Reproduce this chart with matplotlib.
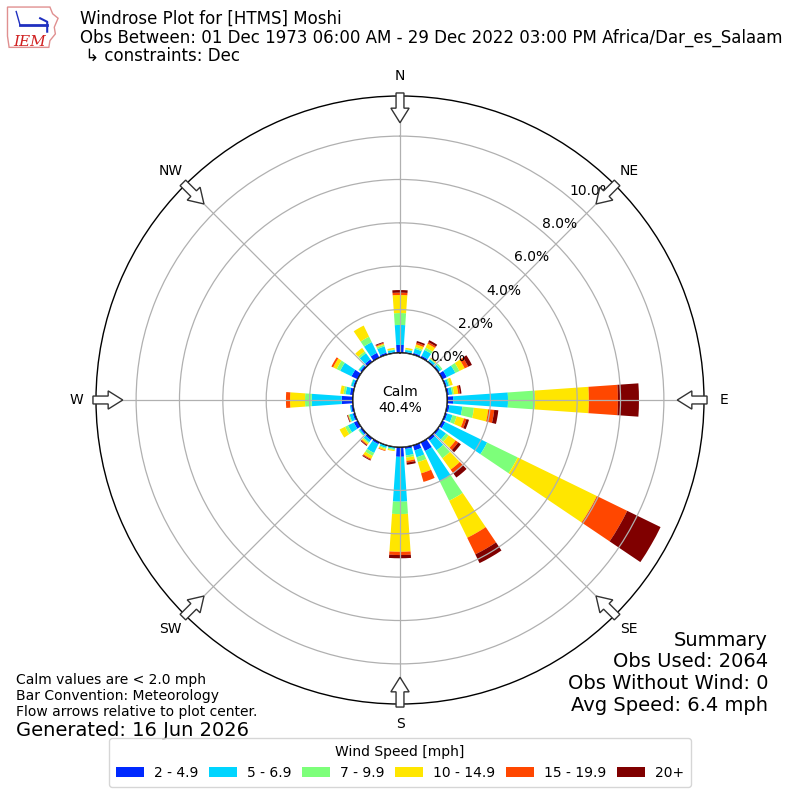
import numpy as np
import matplotlib
matplotlib.use("Agg")
import matplotlib.pyplot as plt
from matplotlib.patches import Patch, Circle, FancyArrow, Polygon

# ---------------- data ----------------
directions = list(range(0, 360, 10))
speed_labels = ['2 - 4.9', '5 - 6.9', '7 - 9.9', '10 - 14.9', '15 - 19.9', '20+']

s_2_5 = [0.37, 0.05, 0.09, 0.10, 0.06, 0.08, 0.23, 0.08, 0.10, 0.28, 0.12, 0.10,
         0.15, 0.10, 0.15, 0.45, 0.25, 0.10, 0.45, 0.03, 0.03, 0.10, 0.12, 0.10,
         0.20, 0.10, 0.10, 0.52, 0.15, 0.08, 0.32, 0.10, 0.15, 0.25, 0.10, 0.05]
s_5_7 = [0.92, 0.10, 0.20, 0.30, 0.10, 0.10, 0.44, 0.10, 0.15, 2.53, 0.60, 0.25,
         2.15, 0.35, 0.55, 1.55, 0.33, 0.30, 2.07, 0.07, 0.10, 0.45, 0.12, 0.07,
         0.30, 0.15, 0.05, 1.38, 0.20, 0.10, 0.58, 0.08, 0.35, 0.55, 0.30, 0.10]
s_7_10 = [0.55, 0.03, 0.08, 0.12, 0.04, 0.07, 0.21, 0.06, 0.08, 1.25, 0.54, 0.20,
          1.57, 0.15, 0.45, 1.00, 0.23, 0.10, 0.57, 0.05, 0.05, 0.15, 0.06, 0.03,
          0.15, 0.05, 0.00, 0.31, 0.10, 0.02, 0.18, 0.02, 0.10, 0.28, 0.08, 0.03]
s_10_15 = [0.83, 0.07, 0.13, 0.20, 0.03, 0.00, 0.27, 0.12, 0.20, 2.48, 0.66, 0.35,
           4.06, 0.40, 0.65, 1.90, 0.54, 0.15, 1.74, 0.05, 0.07, 0.15, 0.07, 0.00,
           0.28, 0.02, 0.00, 0.69, 0.15, 0.00, 0.18, 0.00, 0.20, 0.57, 0.05, 0.07]
s_15_20 = [0.11, 0.00, 0.08, 0.08, 0.01, 0.00, 0.18, 0.00, 0.08, 1.34, 0.28, 0.12,
           1.56, 0.15, 0.20, 0.85, 0.41, 0.08, 0.15, 0.00, 0.03, 0.05, 0.04, 0.00,
           0.00, 0.02, 0.00, 0.19, 0.00, 0.00, 0.09, 0.00, 0.00, 0.00, 0.04, 0.00]
s_20p = [0.12, 0.00, 0.08, 0.10, 0.01, 0.00, 0.19, 0.00, 0.07, 0.97, 0.19, 0.12,
         1.71, 0.15, 0.25, 0.45, 0.00, 0.10, 0.15, 0.00, 0.00, 0.04, 0.04, 0.00,
         0.00, 0.03, 0.00, 0.00, 0.00, 0.00, 0.00, 0.00, 0.00, 0.00, 0.04, 0.00]

calm_pct = 40.4
ring_values = [0, 2, 4, 6, 8, 10]
compass_labels = ['N', 'NE', 'E', 'SE', 'S', 'SW', 'W', 'NW']
compass_angles = [0, 45, 90, 135, 180, 225, 270, 315]

series = [s_2_5, s_5_7, s_7_10, s_10_15, s_15_20, s_20p]
colors = plt.cm.jet(np.linspace(0, 1, 7)[1:])

# ---------------- figure ----------------
fig = plt.figure(figsize=(8, 8), dpi=100)
ax = fig.add_axes([0.12, 0.12, 0.76, 0.76], projection='polar')
ax.set_theta_zero_location('N')
ax.set_theta_direction(-1)

theta = np.deg2rad(directions)
width = np.deg2rad(8)
bottom = np.zeros(len(directions))
handles = []
for vals, col, lab in zip(series, colors, speed_labels):
    v = np.array(vals)
    ax.bar(theta, v, width=width, bottom=bottom, color=col, linewidth=0,
           zorder=2)
    bottom = bottom + v
    handles.append(Patch(facecolor=col, label=lab))

ax.set_ylim(0, 11.85)
ax.set_rorigin(-2.17)
ax.set_thetagrids(compass_angles, labels=[''] * 8)
ax.set_rgrids(ring_values, labels=[''] * len(ring_values))
ax.grid(True, color='#b0b0b0', linewidth=0.9, zorder=3)
ax.set_axisbelow(False)
ax.spines['polar'].set_linewidth(1.0)
ax.tick_params(length=0)

# radial labels
for rv in ring_values:
    ax.text(np.deg2rad(40), rv, f"{rv:.1f}%", ha='left', va='bottom',
            fontsize=10, zorder=6)

# compass labels and flow arrows
for lab, ang in zip(compass_labels, compass_angles):
    a = np.deg2rad(ang)
    rl = 0.533
    ax.text(0.5 + rl * np.sin(a), 0.5 + rl * np.cos(a), lab,
            transform=ax.transAxes, ha='center', va='center', fontsize=10)
    r0, r1 = 0.505, 0.456
    x0, y0 = 0.5 + r0 * np.sin(a), 0.5 + r0 * np.cos(a)
    x1, y1 = 0.5 + r1 * np.sin(a), 0.5 + r1 * np.cos(a)
    arr = FancyArrow(x0, y0, x1 - x0, y1 - y0, width=0.013, head_width=0.03,
                     head_length=0.024, length_includes_head=True,
                     transform=ax.transAxes, facecolor='white',
                     edgecolor='#333333', linewidth=1.0, clip_on=False, zorder=7)
    ax.add_patch(arr)

# calm circle
calm = Circle((0.5, 0.5), 47 / 608, transform=ax.transAxes, facecolor='white',
              edgecolor='black', linewidth=1.2, zorder=8)
ax.add_patch(calm)
ax.text(0.5, 0.5, f"Calm\n{calm_pct:.1f}%", transform=ax.transAxes,
        ha='center', va='center', fontsize=10, zorder=9)

# titles
fig.text(0.1, 1 - 19 / 800, "Windrose Plot for [HTMS] Moshi", fontsize=12,
         va='center', ha='left')
fig.text(0.1, 1 - 38 / 800,
         "Obs Between: 01 Dec 1973 06:00 AM - 29 Dec 2022 03:00 PM Africa/Dar_es_Salaam",
         fontsize=12, va='center', ha='left')
fig.text(0.1, 1 - 56 / 800, " \u21b3 constraints: Dec", fontsize=12,
         va='center', ha='left')

# logo
lax = fig.add_axes([0.008, 0.938, 0.068, 0.056])
lax.set_xlim(0, 1)
lax.set_ylim(0, 1)
lax.axis('off')
iowa = Polygon([[0.02, 0.95], [0.80, 0.95], [0.85, 0.80], [0.95, 0.70],
                [0.88, 0.50], [0.90, 0.35], [0.80, 0.20], [0.78, 0.05],
                [0.05, 0.05], [0.02, 0.30]], closed=True, facecolor='white',
               edgecolor='#e09090', linewidth=1.0)
lax.add_patch(iowa)
lax.plot([0.25, 0.75], [0.55, 0.55], color='#2030c0', lw=2)
lax.plot([0.62, 0.75, 0.75], [0.70, 0.62, 0.40], color='#2030c0', lw=1.5)
lax.plot([0.25, 0.18], [0.55, 0.85], color='#2030c0', lw=1)
lax.text(0.42, 0.18, "IEM", color='#d02020', fontsize=11, ha='center',
         va='center', family='DejaVu Serif', style='italic')

# bottom-left notes
fig.text(0.02, 1 - 680 / 800, "Calm values are < 2.0 mph", fontsize=10, va='center')
fig.text(0.02, 1 - 696 / 800, "Bar Convention: Meteorology", fontsize=10, va='center')
fig.text(0.02, 1 - 712 / 800, "Flow arrows relative to plot center.", fontsize=10, va='center')
fig.text(0.02, 1 - 730 / 800, "Generated: 16 Jun 2026", fontsize=14, va='center')

# summary
summary_lines = ["Summary", "Obs Used: 2064", "Obs Without Wind: 0", "Avg Speed: 6.4 mph"]
for i, line in enumerate(summary_lines):
    fig.text(0.96, 1 - (640 + 21.7 * i) / 800, line, fontsize=14, ha='right',
             va='center')

# legend
leg = fig.legend(handles=handles, loc='lower center', bbox_to_anchor=(0.5, 0.008),
                 ncol=6, fontsize=10, title='Wind Speed [mph]', title_fontsize=10,
                 handlelength=2.0, handletextpad=0.7, columnspacing=0.8,
                 borderpad=0.5, frameon=True)

fig.savefig('out.png', dpi=100)
